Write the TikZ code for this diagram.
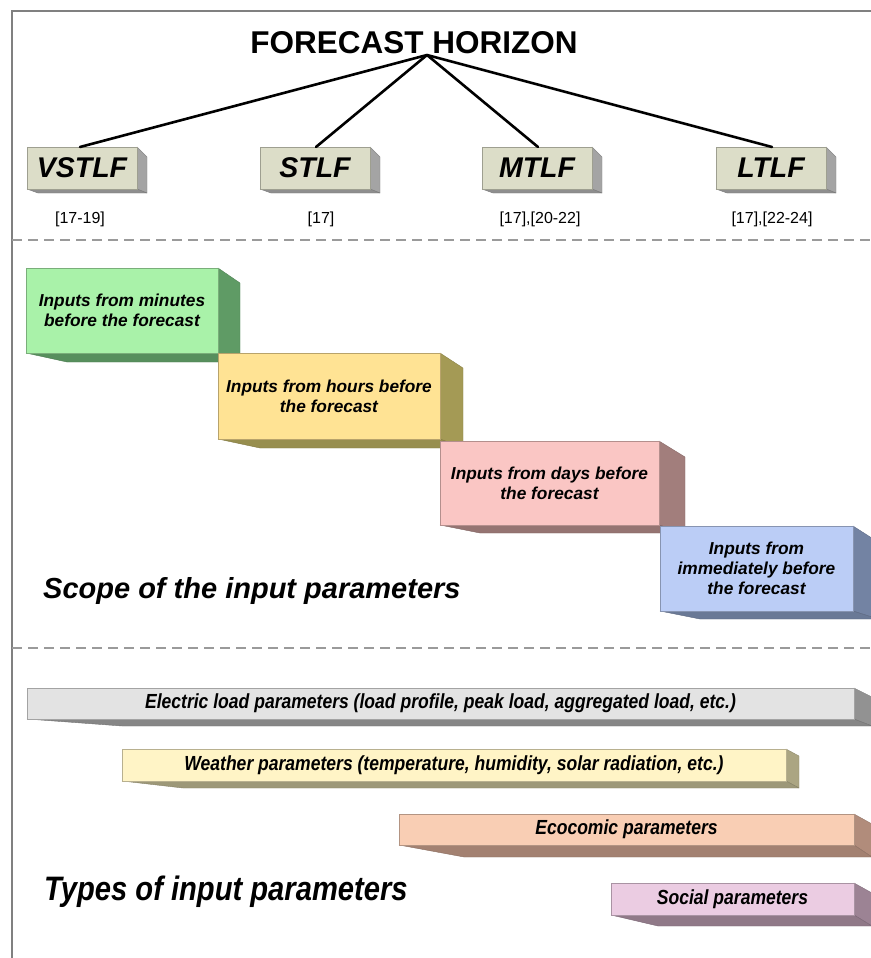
\documentclass[tikz,border=0pt]{standalone}
\usepackage{fontspec}
\setmainfont{Liberation Sans}
\newfontfamily\narrowfont[FakeStretch=0.86]{Liberation Sans}
\usetikzlibrary{calc}
\pgfdeclarelayer{back}
\pgfsetlayers{back,main}

% frame and dividers
\definecolor{framegray}{HTML}{808080}
\definecolor{dashgray}{HTML}{9A9A9A}
% horizon boxes
\definecolor{hzfront}{HTML}{DCDDC8}
\definecolor{hzside}{HTML}{A4A4A4}
\definecolor{hzbottom}{HTML}{8E8E8E}
% scope boxes
\definecolor{grfront}{HTML}{A9F2A9}
\definecolor{grside}{HTML}{5F9B65}
\definecolor{yefront}{HTML}{FFE394}
\definecolor{yeside}{HTML}{A49A55}
\definecolor{pkfront}{HTML}{FAC6C4}
\definecolor{pkside}{HTML}{A27E7C}
\definecolor{blfront}{HTML}{BBCDF6}
\definecolor{blside}{HTML}{7383A3}
% parameter bars
\definecolor{elfront}{HTML}{E3E3E3}
\definecolor{elside}{HTML}{929292}
\definecolor{wefront}{HTML}{FFF4C6}
\definecolor{weside}{HTML}{ABA582}
\definecolor{ecfront}{HTML}{F9CEB4}
\definecolor{ecside}{HTML}{B18C7B}
\definecolor{sofront}{HTML}{EBCCE2}
\definecolor{soside}{HTML}{9C8394}

% 3-D depth behind a face node:
% #1 node, #2 side width, #3 top slant, #4 bottom depth, #5 bottom shift, #6 side colour, #7 bottom colour
\newcommand\boxdepth[7]{%
  \begin{pgfonlayer}{back}
    \filldraw[fill=#6, draw=#6!85!black, line width=0.4pt, line join=round]
      (#1.north east) -- ++(#2,#3) -- ($(#1.south east)+(#2,#4)$) -- (#1.south east) -- cycle;
    \filldraw[fill=#7, draw=#7!85!black, line width=0.4pt, line join=round]
      (#1.south west) -- (#1.south east) -- ($(#1.south east)+(#2,#4)$) -- ($(#1.south west)+(#5,#4)$) -- cycle;
  \end{pgfonlayer}}

\tikzset{
  face/.style={rectangle, outer sep=0pt, inner sep=0pt, anchor=north west,
    align=center, text=black, line width=0.5pt, fill=#1, draw=#1!72!black},
  hzbox/.style={face=hzfront, minimum width=110pt, minimum height=42pt,
    font=\fontsize{28.5}{30}\selectfont\bfseries\itshape},
  inbox/.style={face=#1, font=\fontsize{17.3}{20}\selectfont\bfseries\itshape},
  bar/.style={face=#1, font=\narrowfont\fontsize{20.4}{22}\selectfont\bfseries\itshape},
  reflabel/.style={font=\fontsize{16}{18}\selectfont, inner sep=0pt},
  branch/.style={line width=2.6pt, line cap=round},
  divider/.style={draw=dashgray, line width=1.2pt, dash pattern=on 10pt off 6pt},
  framing/.style={draw=framegray, line width=1.5pt},
  heading/.style={anchor=base west, inner sep=0pt, text=black},
}

\begin{document}
\begin{tikzpicture}[x=1pt, y=-1pt]
\useasboundingbox (0,0) rectangle (870,958);

% page frame
\coordinate (ftl) at (12,11);
\coordinate (ftr) at (871,11);
\coordinate (fbl) at (12,959);
\draw[framing] (ftr) -- (ftl) -- (fbl);

% section dividers
\coordinate (d1l) at (12,240);
\coordinate (d1r) at (870,240);
\coordinate (d2l) at (12,648);
\coordinate (d2r) at (870,648);
\draw[divider] (d1l) -- (d1r);
\draw[divider] (d2l) -- (d2r);

% forecast horizon tree
\node[anchor=base, inner sep=0pt, font=\fontsize{31.5}{34}\selectfont\bfseries] (title) at (414,54) {FORECAST HORIZON};
\coordinate (apex) at (427,55);

\node[hzbox] (vstlf) at (27,147) {VSTLF};
\node[hzbox] (stlf) at (260,147) {STLF};
\node[hzbox] (mtlf) at (482,147) {MTLF};
\node[hzbox] (ltlf) at (716,147) {LTLF};
\foreach \n in {vstlf,stlf,mtlf,ltlf}{\boxdepth{\n}{10}{10}{4}{11}{hzside}{hzbottom}}

\draw[branch] (apex) -- ([xshift=-2pt]vstlf.north);
\draw[branch] (apex) -- ([xshift=1pt]stlf.north);
\draw[branch] (apex) -- ([xshift=1pt]mtlf.north);
\draw[branch] (apex) -- ([xshift=1pt]ltlf.north);

\node[reflabel] (vstlfref) at (80,219) {[17-19]};
\node[reflabel] (stlfref) at (321,219) {[17]};
\node[reflabel] (mtlfref) at (540,219) {[17],[20-22]};
\node[reflabel] (ltlfref) at (772,219) {[17],[22-24]};

% scope of the input parameters
\node[inbox=grfront, minimum width=192pt, minimum height=85pt] (minutes) at (26,268) {Inputs from minutes\\before the forecast};
\node[inbox=yefront, minimum width=222pt, minimum height=86pt] (hours) at (218,353) {Inputs from hours before\\the forecast};
\node[inbox=pkfront, minimum width=219pt, minimum height=84pt] (days) at (440,441) {Inputs from days before\\the forecast};
\node[inbox=blfront, minimum width=193pt, minimum height=85pt] (immediate) at (660,526) {Inputs from\\immediately before\\the forecast};
\boxdepth{minutes}{22}{15}{9}{41}{grside}{grside!92!black}
\boxdepth{hours}{23}{15}{9}{42}{yeside}{yeside!92!black}
\boxdepth{days}{26}{16}{8}{40}{pkside}{pkside!92!black}
\boxdepth{immediate}{25}{16}{8}{40}{blside}{blside!92!black}

\node[heading, font=\fontsize{29}{32}\selectfont\bfseries\itshape] (scope) at (43,598) {Scope of the input parameters};

% types of input parameters
\node[bar=elfront, minimum width=827pt, minimum height=31pt] (electric) at (27,688) {Electric load parameters (load profile, peak load, aggregated load, etc.)};
\node[bar=wefront, minimum width=664pt, minimum height=32pt] (weather) at (122,749) {Weather parameters (temperature, humidity, solar radiation, etc.)};
\node[bar=ecfront, minimum width=455pt, minimum height=31pt] (economic) at (399,814) {Ecocomic parameters};
\node[bar=sofront, minimum width=243pt, minimum height=32pt] (social) at (611,883) {Social parameters};
\boxdepth{electric}{18}{9}{7}{95}{elside}{elside!92!black}
\boxdepth{weather}{13}{7}{7}{61}{weside}{weside!92!black}
\boxdepth{economic}{18}{10}{12}{65}{ecside}{ecside!92!black}
\boxdepth{social}{18}{10}{11}{47}{soside}{soside!92!black}

\node[heading, font=\narrowfont\fontsize{33.9}{36}\selectfont\bfseries\itshape] (types) at (44,900) {Types of input parameters};
\end{tikzpicture}
\end{document}
